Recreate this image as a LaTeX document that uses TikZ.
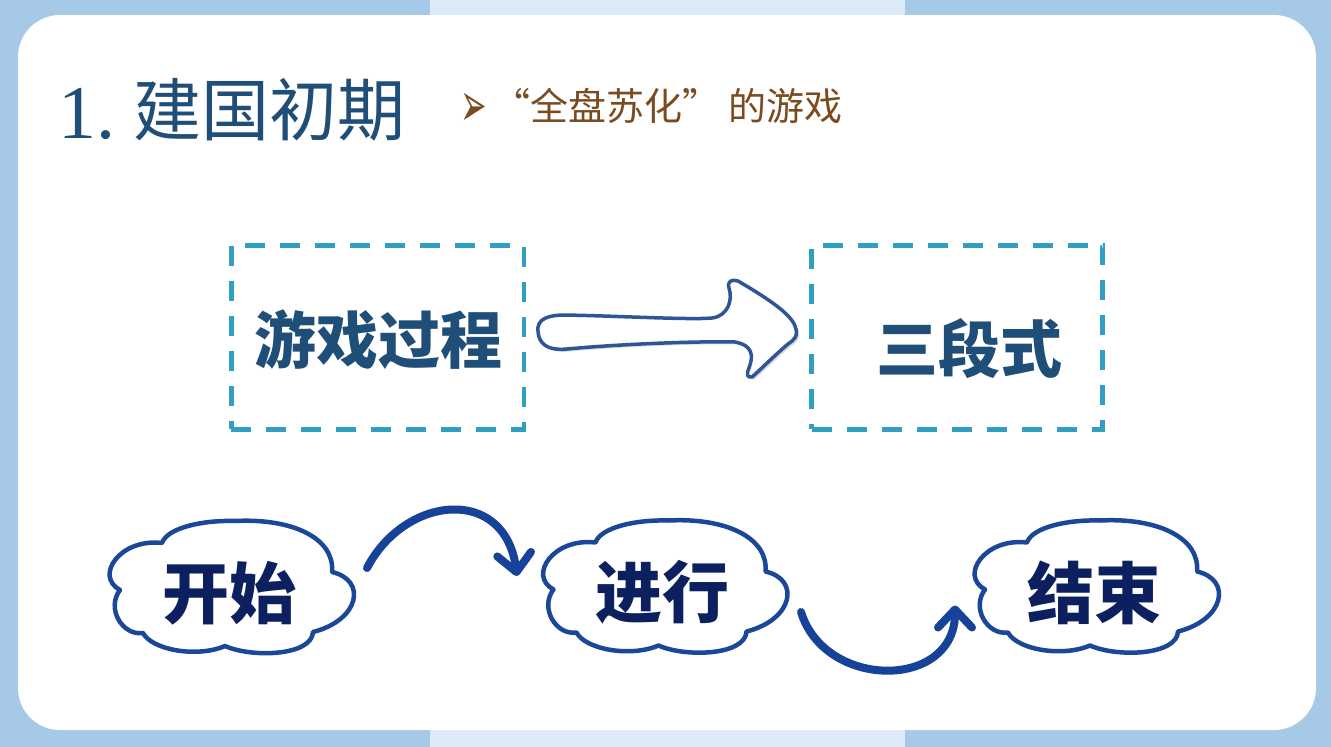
\documentclass[tikz,border=0pt]{standalone}
\usepackage{fontspec}
\newfontfamily\cjk{Noto Sans CJK SC}
\newfontfamily\serifnum{Liberation Serif}
\newfontfamily\dejavu{DejaVu Sans}
\usetikzlibrary{calc,arrows.meta,shadows}
\definecolor{bgblue}{HTML}{A7C9E8}
\definecolor{striplight}{HTML}{DCE9F6}
\definecolor{titleblue}{HTML}{1F4E79}
\definecolor{subbrown}{HTML}{7B4B1F}
\definecolor{dashteal}{HTML}{319FC2}
\definecolor{arrowblue}{HTML}{2E5597}
\definecolor{cloudblue}{HTML}{1B4799}
\definecolor{cloudtextc}{HTML}{0C1F5E}
\definecolor{connblue}{HTML}{17429A}
\tikzset{
  dbox/.style={draw=dashteal, line width=4.5pt, dash pattern=on 20pt off 15pt, inner sep=0pt},
  boxtext/.style={inner sep=0pt, text=titleblue, font=\cjk\bfseries\fontsize{62}{70}\selectfont},
  cloudline/.style={draw=cloudblue, line width=4.5pt, line join=round},
  cloudtext/.style={inner sep=0pt, text=cloudtextc, font=\cjk\bfseries\fontsize{67}{75}\selectfont},
  conn/.style={draw=connblue, line width=8pt, line cap=round,
    -{Straight Barb[length=18pt,width=34pt,round]}},
  cloudpic/.pic={
    \draw[cloudline] (-70,-45) .. controls (-65,-60) and (-30,-68) .. (3,-67)
      .. controls (60,-70) and (103,-50) .. (100,-16)
      .. controls (135,-8) and (128,32) .. (81,44)
      .. controls (80,68) and (20,70) .. (-7,58)
      .. controls (-35,70) and (-80,62) .. (-89,45)
      .. controls (-110,48) and (-126,20) .. (-112,2)
      .. controls (-138,-12) and (-112,-50) .. (-70,-45) -- cycle;
    \coordinate (-c) at (0,0);
    \node[cloudtext] (-t) at (-3,5) {#1};
  }
}
\begin{document}
\begin{tikzpicture}[x=1pt,y=-1pt]
\useasboundingbox (0,0) rectangle (1331,747);
% background
\fill[bgblue] (0,0) rectangle (1331,747);
\fill[striplight] (430,0) rectangle (905,15);
\fill[striplight] (430,730) rectangle (905,747);
\fill[white, rounded corners=42pt] (18,15) rectangle (1316,730);
% title
\node[anchor=base west, inner sep=0pt, text=titleblue, font=\serifnum\fontsize{76}{80}\selectfont] (tnum) at (58,138) {1.};
\node[anchor=base west, inner sep=0pt, text=titleblue, font=\cjk\fontsize{68}{80}\selectfont] (ttext) at (133,135) {建国初期};
% subtitle
\node[anchor=base west, inner sep=0pt, text=subbrown, font=\dejavu\fontsize{48}{52}\selectfont] (bullet) at (460,126) {\scalebox{0.66}[1.3]{➢}};
\node[anchor=base west, inner sep=0pt, text=subbrown, font=\cjk\fontsize{38}{44}\selectfont] (sub) at (492,120) {“全盘苏化” 的游戏};
% dashed boxes
\node[dbox, minimum width=292.5pt, minimum height=184pt] (b1) at (377.7,337.3) {};
\node[dbox, minimum width=291pt, minimum height=184pt] (b2) at (957,337.3) {};
\node[boxtext] (t1) at (378,340) {游戏过程};
\node[boxtext] (t2) at (969,349) {三段式};
% hollow arrow
\draw[draw=arrowblue, fill=white, line width=3.5pt, line join=round,
      drop shadow={opacity=0.3, shadow xshift=2.5pt, shadow yshift=-2.5pt}]
  (538,332) .. controls (536,318) and (550,315) .. (565,315)
  .. controls (620,316) and (690,320) .. (712,318)
  .. controls (728,316) and (733,300) .. (729,288)
  .. controls (727,281) and (732,279) .. (738,281)
  .. controls (760,294) and (790,312) .. (795,326)
  .. controls (799,336) and (794,340) .. (788,344)
  .. controls (775,355) and (760,370) .. (752,377)
  .. controls (747,378) and (746,374) .. (749,368)
  .. controls (754,355) and (752,345) .. (735,342)
  .. controls (700,341) and (620,344) .. (567,349)
  .. controls (545,351) and (539,342) .. (538,332) -- cycle;
% clouds
\pic (c1) at (232,588) {cloudpic={开始}};
\pic (c2) at (665.5,587.5) {cloudpic={进行}};
\pic (c3) at (1097,587.5) {cloudpic={结束}};
% connectors
\draw[conn] ($(c1-c)+(135,-20)$) .. controls (405,495) and (505,485) .. ($(c2-c)+(-148.5,-11.5)$);
\draw[conn] ($(c2-c)+(135.5,24.5)$) .. controls (825,690) and (955,690) .. ($(c3-c)+(-142,18)$);
\end{tikzpicture}
\end{document}
